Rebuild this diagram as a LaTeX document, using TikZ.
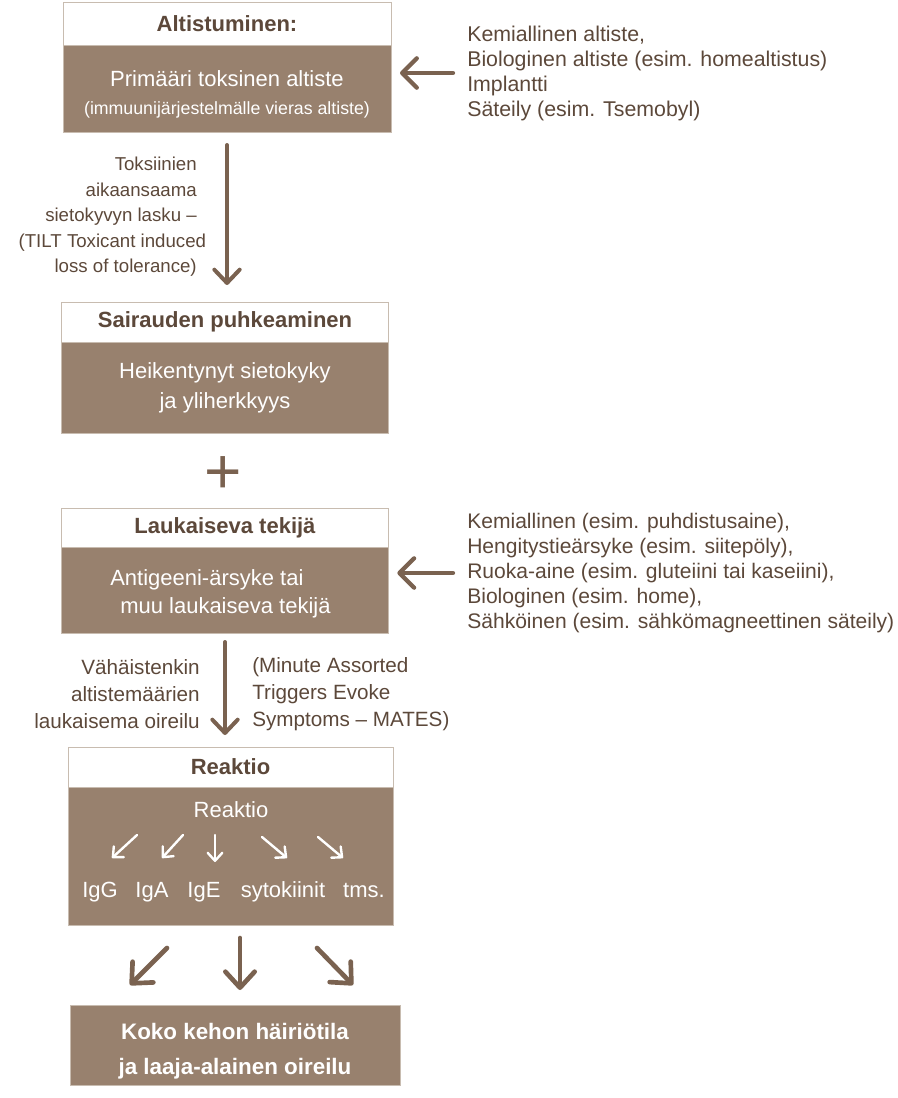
\documentclass[tikz,border=0pt]{standalone}
\usepackage{fontspec}
\setmainfont{Liberation Sans}
\usetikzlibrary{positioning,arrows.meta,calc}
\definecolor{boxbrown}{RGB}{152,129,110}
\definecolor{inkbrown}{RGB}{92,72,58}
\definecolor{arrowbrown}{RGB}{122,98,80}
\definecolor{edgetan}{RGB}{200,188,176}
\tikzset{
  headbox/.style={draw=edgetan, fill=white, rectangle, minimum width=245pt, minimum height=30pt, outer sep=0pt, text=inkbrown, font=\fontsize{16.5}{18}\selectfont\bfseries},
  bodybox/.style={draw=edgetan, fill=boxbrown, rectangle, minimum width=245pt, outer sep=0pt},
  boxtext/.style={text=white, inner sep=0pt, align=center, font=\fontsize{16.5}{21}\selectfont},
  sidetext/.style={text=inkbrown, inner sep=0pt, font=\fontsize{16}{18.75}\selectfont},
  bigarrow/.style={draw=arrowbrown, line width=3pt, line cap=round, -{Straight Barb[length=10pt,width=19pt,round]}},
  whitearrow/.style={draw=white, line width=1.8pt, line cap=round, -{Straight Barb[length=6pt,width=11pt,round]}},
  whitelabel/.style={text=white, inner sep=0pt, anchor=base, font=\fontsize{16.5}{18}\selectfont}
}
\begin{document}
\begin{tikzpicture}[x=0.75pt,y=-0.75pt]
\useasboundingbox (0,0) rectangle (898,1098);

% Altistuminen
\node (alttitle)[headbox, minimum width=246pt, minimum height=32.25pt] at (227,23.5) {Altistuminen:};
\node (altbody)[bodybox, minimum width=246pt, minimum height=65.25pt, below=0pt of alttitle] {};
\node (alttext)[boxtext] at (227,94) {Primääri toksinen altiste\\{\fontsize{13.3}{21}\selectfont(immuunijärjestelmälle vieras altiste)}};
\node (kemtext)[sidetext, anchor=west, align=left] at (467,73) {Kemiallinen altiste,\\Biologinen altiste (esim. homealtistus)\\Implantti\\Säteily (esim. Tsemobyl)};
\draw [bigarrow, line width=3.2pt, -{Straight Barb[length=11pt,width=22pt,round]}, shorten <=10.5pt, shorten >=6.75pt](kemtext.west)--(kemtext.west -| altbody.east);

\node (tilt)[sidetext, anchor=east, align=right, font=\fontsize{14}{19.1}\selectfont] at (197,217) {Toksiinien\\aikaansaama\\sietokyvyn lasku –\\(TILT Toxicant induced\kern-7pt\\loss of tolerance)};

% Sairauden puhkeaminen
\node (sairtitle)[headbox] at (225,322) {Sairauden puhkeaminen};
\node (sairbody)[bodybox, minimum height=68.25pt, below=0pt of sairtitle] {};
\node (sairtext)[boxtext, font=\fontsize{16.5}{22.5}\selectfont] at (225,388) {Heikentynyt sietokyky\\ja yliherkkyys};
\draw [bigarrow, shorten <=9.75pt, shorten >=12.75pt](altbody.south)--(altbody.south |- sairtitle.north);

\node (plus)[text=arrowbrown, inner sep=0pt, font=\fontsize{48}{48}\selectfont] at (223,475) {+};

% Laukaiseva tekija
\node (lauktitle)[headbox, minimum height=29.25pt] at (225,527.5) {Laukaiseva tekijä};
\node (laukbody)[bodybox, minimum height=64.5pt, below=0pt of lauktitle] {};
\node (lauktext)[boxtext, align=left, anchor=west] at (110,594) {Antigeeni-ärsyke tai\\\hspace*{7.5pt}muu laukaiseva tekijä};
\node (puhtext)[sidetext, anchor=west, align=left, font=\fontsize{15.8}{18.75}\selectfont] at (467,573) {Kemiallinen (esim. puhdistusaine),\\Hengitystieärsyke (esim. siitepöly),\\Ruoka-aine (esim. gluteiini tai kaseiini),\\Biologinen (esim. home),\\Sähköinen (esim. sähkömagneettinen säteily)};
\draw [bigarrow, line width=3.2pt, -{Straight Barb[length=11pt,width=22pt,round]}, shorten <=10.5pt, shorten >=6.75pt](puhtext.west)--(puhtext.west -| laukbody.east);

\node (vahtext)[sidetext, anchor=east, align=right, font=\fontsize{15.5}{20}\selectfont] at (200,694) {Vähäistenkin\\altistemäärien\\laukaisema oireilu};
\node (matestext)[sidetext, anchor=west, align=left, font=\fontsize{15.5}{20}\selectfont] at (252,694) {(Minute Assorted\\Triggers Evoke\\Symptoms – MATES)};

% Reaktio
\node (reaktitle)[headbox, minimum width=243.75pt] at (230.5,767) {Reaktio};
\node (reakbody)[bodybox, minimum width=243.75pt, minimum height=103.5pt, below=0pt of reaktitle] {};
\draw [bigarrow, shorten <=6.75pt, shorten >=9pt](laukbody.south)--(laukbody.south |- reaktitle.north);

\node (reaktxt)[whitelabel] at (231,817) {Reaktio};
\node (igg)[whitelabel] at (100,897) {IgG};
\node (iga)[whitelabel] at (152,897) {IgA};
\node (ige)[whitelabel] at (204,897) {IgE};
\node (sytok)[whitelabel] at (283,897) {sytokiinit};
\node (tms)[whitelabel] at (364,897) {tms.};
\foreach \a/\b/\c/\d in {137/835/112/858, 183/835/162/858, 215/835/215/862, 262/837/287/858, 318/837/343/858}
  \draw [whitearrow](\a,\b)--(\c,\d);

% Koko kehon hairiotila
\node (kokobox)[bodybox, minimum width=247.5pt, minimum height=60pt] at (235,1045) {};
\node (kokotext)[boxtext, font=\fontsize{16.8}{26}\selectfont\bfseries] at (235,1051) {Koko kehon häiriötila\\ja laaja-alainen oireilu};
\draw [bigarrow, line width=3.5pt, -{Straight Barb[length=12pt,width=22pt,round]}]($(reakbody.south)+(-63.5,23)$)--($(kokobox.north)+(-105,-20)$);
\draw [bigarrow, line width=3.5pt, -{Straight Barb[length=12pt,width=22pt,round]}]($(reakbody.south)+(9.5,13)$)--($(kokobox.north)+(5,-15)$);
\draw [bigarrow, line width=3.5pt, -{Straight Barb[length=12pt,width=22pt,round]}]($(reakbody.south)+(86.5,23)$)--($(kokobox.north)+(118,-20)$);
\end{tikzpicture}
\end{document}
